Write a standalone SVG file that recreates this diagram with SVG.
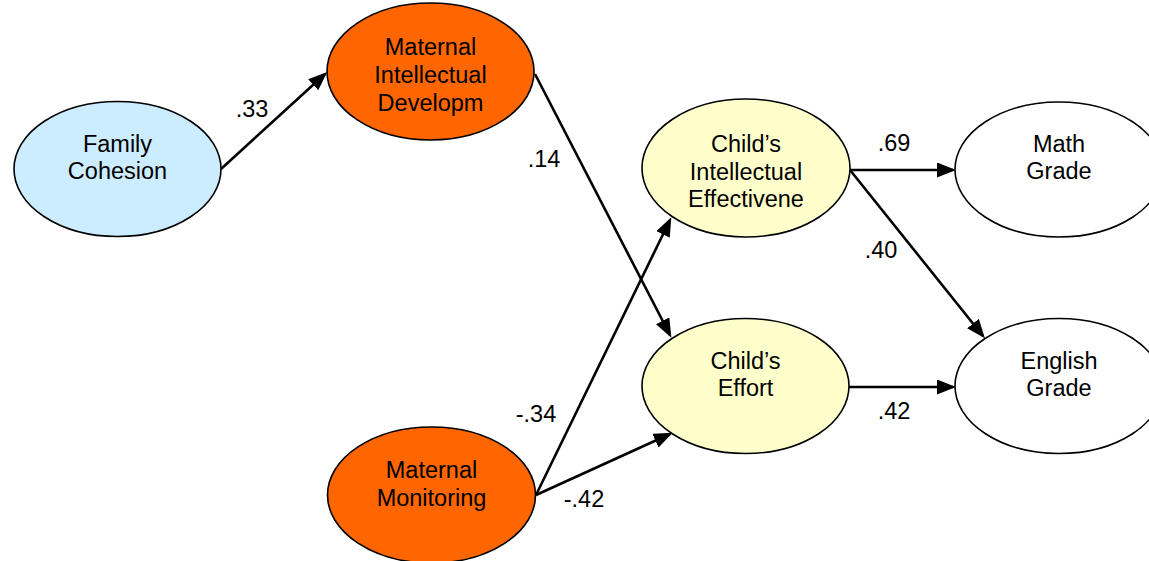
<svg xmlns="http://www.w3.org/2000/svg" width="1149" height="561" viewBox="0 0 1149 561">
  <defs>
    <style>
      .node { stroke: #000; stroke-width: 1.6; }
      .lbl { font-family: "Liberation Sans", Arial, sans-serif; font-size: 23.5px; fill: #000; text-anchor: middle; }
      .edge { stroke: #000; stroke-width: 2.6; fill: none; marker-end: url(#arrow); }
      .blue { fill: #CCECFF; }
      .orange { fill: #FF6600; }
      .yellow { fill: #FFFFCC; }
      .white { fill: #FFFFFF; }
    </style>
    <marker id="arrow" markerUnits="userSpaceOnUse" markerWidth="20" markerHeight="16" refX="16" refY="7.5" orient="auto">
      <path d="M0,0 L19,7.5 L0,15 z" fill="#000"/>
    </marker>
  </defs>

  <!-- paths between constructs -->
  <g id="connectors">
    <line class="edge" x1="221" y1="169" x2="325" y2="74"/>
    <line class="edge" x1="535" y1="74" x2="670" y2="335"/>
    <line class="edge" x1="536" y1="495" x2="670" y2="220"/>
    <line class="edge" x1="536" y1="495" x2="670" y2="434"/>
    <line class="edge" x1="850" y1="170" x2="953" y2="170"/>
    <line class="edge" x1="850" y1="170" x2="983" y2="336"/>
    <line class="edge" x1="849" y1="387" x2="953" y2="387"/>
    <text class="lbl" x="252" y="117">.33</text>
    <text class="lbl" x="544" y="167">.14</text>
    <text class="lbl" x="536" y="422">-.34</text>
    <text class="lbl" x="584" y="507">-.42</text>
    <text class="lbl" x="894" y="151">.69</text>
    <text class="lbl" x="881" y="258">.40</text>
    <text class="lbl" x="894" y="419">.42</text>
  </g>

  <g id="family-cohesion">
    <ellipse class="node blue" cx="117.5" cy="169" rx="103.5" ry="67.5"/>
    <text class="lbl" x="117.5" y="152">Family</text>
    <text class="lbl" x="117.5" y="179">Cohesion</text>
  </g>

  <g id="maternal-intellectual">
    <ellipse class="node orange" cx="430.5" cy="71.5" rx="103.5" ry="68.5"/>
    <text class="lbl" x="430.5" y="55">Maternal</text>
    <text class="lbl" x="430.5" y="83">Intellectual</text>
    <text class="lbl" x="430.5" y="111">Developm</text>
  </g>

  <g id="maternal-monitoring">
    <ellipse class="node orange" cx="431.5" cy="495" rx="104" ry="68"/>
    <text class="lbl" x="431.5" y="478">Maternal</text>
    <text class="lbl" x="431.5" y="506">Monitoring</text>
  </g>

  <g id="child-intellectual">
    <ellipse class="node yellow" cx="746" cy="168" rx="104" ry="69"/>
    <text class="lbl" x="746" y="152">Child’s</text>
    <text class="lbl" x="746" y="180">Intellectual</text>
    <text class="lbl" x="746" y="207">Effectivene</text>
  </g>

  <g id="child-effort">
    <ellipse class="node yellow" cx="745.5" cy="386" rx="103.5" ry="67.5"/>
    <text class="lbl" x="745.5" y="369">Child’s</text>
    <text class="lbl" x="745.5" y="396">Effort</text>
  </g>

  <g id="math-grade">
    <ellipse class="node white" cx="1059" cy="169.5" rx="104" ry="67.5"/>
    <text class="lbl" x="1059" y="152">Math</text>
    <text class="lbl" x="1059" y="179">Grade</text>
  </g>

  <g id="english-grade">
    <ellipse class="node white" cx="1059" cy="386" rx="104" ry="67.5"/>
    <text class="lbl" x="1059" y="369">English</text>
    <text class="lbl" x="1059" y="396">Grade</text>
  </g>
</svg>
